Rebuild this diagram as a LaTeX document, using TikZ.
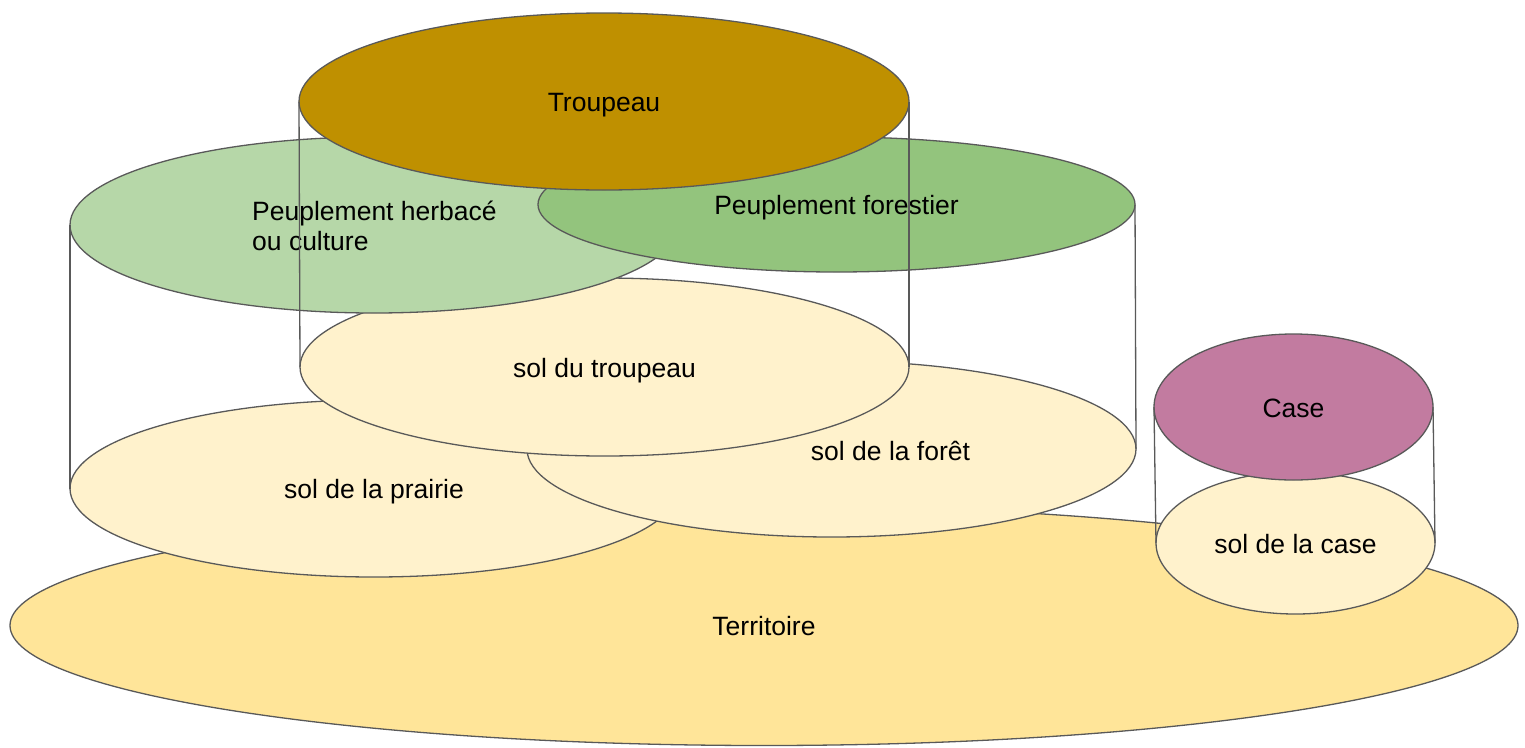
\documentclass[tikz,border=0pt]{standalone}
\usepackage{fontspec}
\setmainfont{Liberation Sans}
\usetikzlibrary{shapes.geometric}
\definecolor{strokegray}{HTML}{595959}
\definecolor{troupeaucol}{HTML}{BF9000}
\definecolor{herbacecol}{HTML}{B6D7A8}
\definecolor{forestcol}{HTML}{93C47D}
\definecolor{solcol}{HTML}{FFF2CC}
\definecolor{terrcol}{HTML}{FFE599}
\definecolor{casecol}{HTML}{C27BA0}
\tikzset{
  disc/.style={ellipse, draw=strokegray, line width=1.3pt, inner sep=0pt, outer sep=0pt,
    font=\fontsize{26.5}{30.5}\selectfont, text=black, text height=22pt, text depth=2pt},
  side/.style={draw=strokegray, line width=1.3pt}
}
\begin{document}
\begin{tikzpicture}[x=1pt,y=-1pt]
\useasboundingbox (0,0) rectangle (1525,747);
\node[disc, fill=terrcol, minimum width=1508pt, minimum height=240pt] (territoire) at (764,625.5) {Territoire};
\node[disc, fill=solcol, minimum width=608pt, minimum height=177pt] (prairie) at (374,488.5) {sol de la prairie};
\node[disc, fill=solcol, minimum width=609pt, minimum height=176pt,
  label={[inner sep=0pt, xshift=59pt, yshift=-2pt, font=\fontsize{26.5}{30.5}\selectfont]center:sol de la forêt}] (foret) at (831.5,449) {};
\node[disc, fill=solcol, minimum width=609pt, minimum height=178pt] (soltroupeau) at (604.5,367) {sol du troupeau};
\node[disc, fill=herbacecol, minimum width=608pt, minimum height=176pt,
  label={[inner sep=0pt, anchor=west, xshift=182pt, yshift=-1pt, align=left, font=\fontsize{26.5}{30.5}\selectfont]west:{Peuplement herbacé\\ou culture}}] (herbace) at (374,225) {};
\node[disc, fill=forestcol, minimum width=597pt, minimum height=135pt] (forestier) at (836.5,204.5) {Peuplement forestier};
\node[disc, fill=troupeaucol, minimum width=610pt, minimum height=177pt] (troupeau) at (604,101.5) {Troupeau};
\node[disc, fill=solcol, minimum width=279pt, minimum height=142pt] (solcase) at (1295.5,543) {sol de la case};
\node[disc, fill=casecol, minimum width=279pt, minimum height=146pt] (case) at (1293.5,407) {Case};
% cylinder sides
\draw[side] (herbace.west) -- (prairie.west);
\draw[side] (forestier.east) -- (foret.east);
\draw[side] (troupeau.west) -- (soltroupeau.west);
\draw[side] (troupeau.east) -- (soltroupeau.east);
\draw[side] (case.west) -- (solcase.west);
\draw[side] (case.east) -- (solcase.east);
\end{tikzpicture}
\end{document}
